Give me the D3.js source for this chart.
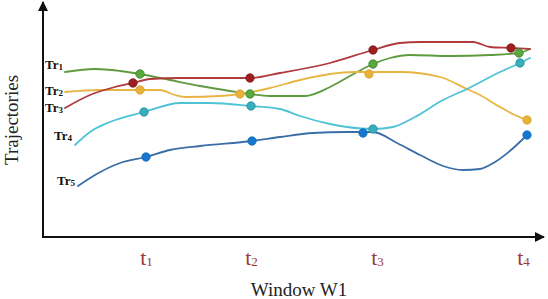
<!DOCTYPE html>
<html>
<head>
<meta charset="utf-8">
<script src="https://cdn.jsdelivr.net/npm/d3@7"></script>
<style>
  body { margin: 0; background: #fff; }
  svg { display: block; font-family: "Liberation Serif", "DejaVu Serif", serif; }
</style>
</head>
<body>
<svg id="chart" width="548" height="299"></svg>
<script>
// ── data (x: position along window W1, y: trajectory value) ──
const seriesNames = ['Tr1', 'Tr2', 'Tr3', 'Tr4', 'Tr5'];

const tr1Line = [[22,165],[52,168],[77,166],[97,163],[127,157],[157,151],[187,146],[207,143],[227,141],[262,141],[287,150],[307,161],[330,173],[347,179],[367,182],[407,181],[447,182],[476,184],[487,188]];
const tr2Line = [[22,145],[57,147],[97,147],[117,147],[132,142],[142,140],[177,141],[197,143],[227,149],[257,157],[287,163],[312,165],[357,165],[397,160],[424,148],[437,142],[457,130],[472,122],[484,117]];
const tr3Line = [[22,129],[47,142],[72,150],[90,154],[107,158],[137,159],[207,159],[237,164],[287,174],[330,187],[357,194],[377,195],[430,195],[447,190],[468,189],[487,188]];
const tr4Line = [[32,92],[47,105],[67,115],[101,125],[137,134],[167,134],[208,131],[237,128],[257,121],[287,113],[304,110],[330,108],[350,110],[372,120],[400,137],[424,148],[457,165],[477,174],[487,179]];
const tr5Line = [[35,51],[52,62],[77,74],[103,80],[127,87],[157,91],[209,96],[237,100],[270,104],[304,105],[330,105],[354,94],[377,82],[400,71],[420,67],[437,68],[452,75],[468,87],[484,102]];

const tr1Dots = [[97,163],[207,143],[330,173],[476,184]];
const tr2Dots = [[97,147],[197,143],[326,163],[484,117]];
const tr3Dots = [[90,154],[207,159],[330,187],[468,189]];
const tr4Dots = [[101,125],[208,131],[330,108],[477,174]];
const tr5Dots = [[103,80],[209,96],[320,104],[484,102]];

const tickPositions = [103, 208, 334, 480];
const tickLabels = ['1', '2', '3', '4'];

// ── style ──
const COLORS = {
  Tr1: { line: '#5e9a3e', dot: '#5aa93e', edge: '#3f7d2a' },
  Tr2: { line: '#e8b542', dot: '#e6b23a', edge: '#d9a22a' },
  Tr3: { line: '#b03a3c', dot: '#9c1f22', edge: '#7e1618' },
  Tr4: { line: '#4fc3d6', dot: '#36aebd', edge: '#1f8d9c' },
  Tr5: { line: '#3c6ea6', dot: '#1677d0', edge: '#1169b8' }
};

const series = [
  { name: 'Tr1', line: tr1Line, dots: tr1Dots, lab: [-20, -3] },
  { name: 'Tr2', line: tr2Line, dots: tr2Dots, lab: [-20, 3] },
  { name: 'Tr3', line: tr3Line, dots: tr3Dots, lab: [-20, 4] },
  { name: 'Tr4', line: tr4Line, dots: tr4Dots, lab: [-21, -5] },
  { name: 'Tr5', line: tr5Line, dots: tr5Dots, lab: [-21, -1] }
];

const svg = d3.select('#chart');
const margin = { top: 2, right: 5, bottom: 62, left: 43 };
const W = 548 - margin.left - margin.right;
const H = 299 - margin.top - margin.bottom;
const g = svg.append('g').attr('transform', `translate(${margin.left},${margin.top})`);

const x = d3.scaleLinear().domain([0, 500]).range([0, W]);
const y = d3.scaleLinear().domain([0, 235]).range([H, 0]);

// arrow heads
const defs = svg.append('defs');
defs.append('marker')
  .attr('id', 'arrow')
  .attr('viewBox', '0 0 10 10')
  .attr('refX', 9).attr('refY', 5)
  .attr('markerWidth', 5).attr('markerHeight', 5)
  .attr('orient', 'auto')
  .append('path').attr('d', 'M0,0 L10,5 L0,10 z').attr('fill', '#111');

// axes
g.append('line')
  .attr('x1', 0).attr('y1', H).attr('x2', W + 1).attr('y2', H)
  .attr('stroke', '#111').attr('stroke-width', 2)
  .attr('marker-end', 'url(#arrow)');
g.append('line')
  .attr('x1', 0).attr('y1', H + 1).attr('x2', 0).attr('y2', 0)
  .attr('stroke', '#111').attr('stroke-width', 2)
  .attr('marker-end', 'url(#arrow)');

const xAxis = g.append('g')
  .attr('transform', `translate(0,${H})`)
  .call(d3.axisBottom(x).tickValues(tickPositions).tickSize(0).tickFormat(''));
xAxis.select('.domain').remove();
xAxis.selectAll('.tick text').remove();
xAxis.selectAll('.tick').append('text')
  .attr('y', 28)
  .attr('text-anchor', 'middle')
  .attr('fill', '#9a3a3a')
  .attr('font-family', '"Liberation Serif", serif')
  .each(function (d, i) {
    const t = d3.select(this);
    t.append('tspan').attr('font-size', 22).text('t');
    t.append('tspan').attr('font-size', 13).attr('dy', 1).text(tickLabels[i]);
  });

// lines
const line = d3.line()
  .x(d => x(d[0]))
  .y(d => y(d[1]))
  .curve(d3.curveMonotoneX);

series.forEach(s => {
  g.append('path')
    .datum(s.line)
    .attr('d', line)
    .attr('fill', 'none')
    .attr('stroke', COLORS[s.name].line)
    .attr('stroke-width', 1.8)
    .attr('stroke-linecap', 'round');
});

series.forEach(s => {
  g.selectAll(null)
    .data(s.dots).enter().append('circle')
      .attr('cx', d => x(d[0]))
      .attr('cy', d => y(d[1]))
      .attr('r', 4.2)
      .attr('fill', COLORS[s.name].dot)
      .attr('stroke', COLORS[s.name].edge)
      .attr('stroke-width', 0.8);
});

// series labels next to line starts
series.forEach(s => {
  const p = s.line[0];
  const t = g.append('text')
    .attr('x', x(p[0]) + s.lab[0])
    .attr('y', y(p[1]) + s.lab[1])
    .attr('text-anchor', 'start')
    .attr('fill', '#111')
    .attr('font-weight', 'bold')
    .attr('font-family', '"Liberation Serif", serif');
  t.append('tspan').attr('font-size', 13).text(s.name.slice(0, 2));
  t.append('tspan').attr('font-size', 9).attr('dy', 0.5).text(s.name.slice(2));
});

// axis titles
svg.append('text')
  .attr('x', 299).attr('y', 296)
  .attr('text-anchor', 'middle')
  .attr('font-size', 19)
  .attr('fill', '#222')
  .text('Window W1');

svg.append('text')
  .attr('transform', 'translate(18,120) rotate(-90)')
  .attr('text-anchor', 'middle')
  .attr('font-size', 19)
  .attr('fill', '#222')
  .text('Trajectories');
</script>
</body>
</html>
